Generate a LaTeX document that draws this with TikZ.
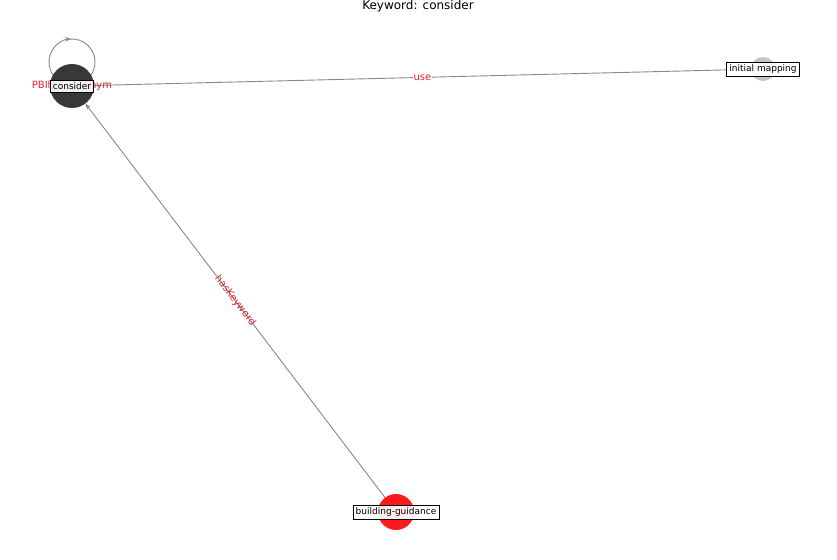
\documentclass[tikz,border=0pt]{standalone}
\usepackage{fontspec}
\setmainfont{DejaVu Sans}
\usetikzlibrary{arrows.meta}
\definecolor{edgegray}{HTML}{888888}
\definecolor{nodedark}{HTML}{383838}
\definecolor{nodered}{HTML}{FF1A1A}
\definecolor{nodelight}{HTML}{C4C4C4}
\definecolor{labred}{HTML}{D62728}
\tikzset{
  dot/.style={circle,inner sep=0pt,draw=none},
  tag/.style={draw=black,fill=white,fill opacity=0.92,text opacity=1,line width=0.8pt,inner sep=2.6pt,font=\fontsize{9}{11}\selectfont},
  edge/.style={draw=edgegray,line width=0.9pt},
  elab/.style={text=labred,font=\fontsize{10}{12}\selectfont,inner sep=0pt},
  tip/.style={-{Stealth[length=6pt,width=4.5pt]}}
}
\begin{document}
\begin{tikzpicture}[x=1pt,y=-1pt]
\useasboundingbox (0,0) rectangle (837,559);
\node[font=\fontsize{12}{14}\selectfont] (title) at (418,6) {Keyword: consider};
% self-loop
\coordinate (lc) at (72,62);
\draw[edge,tip] ([shift={(120:23)}]lc) arc[start angle=120,end angle=268,radius=23];
\draw[edge] ([shift={(265:23)}]lc) arc[start angle=265,end angle=420,radius=23];
% node circles
\node[dot,fill=nodedark,minimum size=44pt] (c) at (72,86) {};
\node[dot,fill=nodelight,minimum size=24pt] (m) at (763,69) {};
\node[dot,fill=nodered,minimum size=36pt] (b) at (396,512) {};
% edges
\draw[edge] (c) -- (m) node[elab,pos=0.5,fill=white,inner sep=1pt] {use};
\draw[edge,tip] (b) -- (c) node[elab,pos=0.5,sloped] {hasKeyword};
% self-loop label
\node[elab] (sl) at (72,86) {PBIhasSynonym};
% tags
\node[tag] (ct) at (72,86) {consider};
\node[tag] (mt) at (763,69) {initial mapping};
\node[tag] (bt) at (396,512) {building-guidance};
\end{tikzpicture}
\end{document}
